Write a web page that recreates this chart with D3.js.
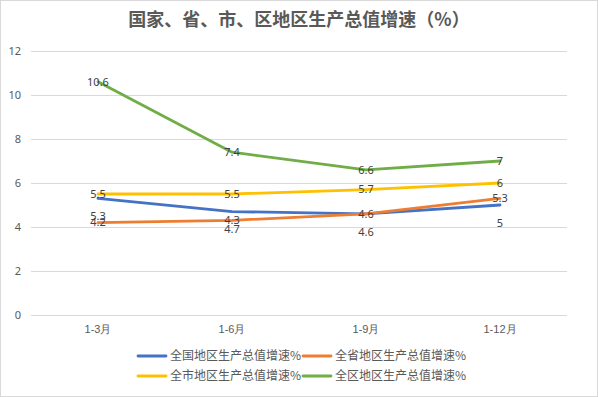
<!DOCTYPE html>
<html><head><meta charset="utf-8">
<script src="https://cdn.jsdelivr.net/npm/d3@7"></script>
<style>
html,body{margin:0;padding:0;background:#fff;}
svg{display:block;font-family:"Noto Sans CJK SC","Noto Sans",sans-serif;}
</style></head>
<body>
<svg id="chart" width="598" height="397"></svg>
<script>
const categories = ["1-3月", "1-6月", "1-9月", "1-12月"];
const seriesNames = ["全国地区生产总值增速%", "全省地区生产总值增速%", "全市地区生产总值增速%", "全区地区生产总值增速%"];
const nationalValues = [5.3, 4.7, 4.6, 5.0];
const provinceValues = [4.2, 4.3, 4.6, 5.3];
const cityValues = [5.5, 5.5, 5.7, 6.0];
const districtValues = [10.6, 7.4, 6.6, 7.0];
const yTicks = [0, 2, 4, 6, 8, 10, 12];
const colors = ["#4472C4", "#ED7D31", "#FFC000", "#70AD47"];
const titleText = "国家、省、市、区地区生产总值增速（%）";

(function(){
const allSeries = [nationalValues, provinceValues, cityValues, districtValues];
const labelOffsets = [18, 0, 0, 0];

const svg = d3.select("#chart");
const W = 598, H = 397;
svg.append("rect").attr("x",0.5).attr("y",0.5).attr("width",W-1).attr("height",H-1)
  .attr("fill","#fff").attr("stroke","#d9d9d9");

const mLeft = 31, mRight = 567, mTop = 51, mBottom = 315;
const x = d3.scaleBand().domain(categories).range([mLeft, mRight]);
const y = d3.scaleLinear().domain([0, 12]).range([mBottom, mTop]);

svg.append("text").attr("x", W/2).attr("y", 26).attr("text-anchor","middle")
  .attr("font-size", 18).attr("font-weight","bold").attr("fill","#595959").text(titleText);

const yAxis = d3.axisLeft(y).tickValues(yTicks).tickSize(-(mRight-mLeft)).tickFormat(d3.format("d"));
const gy = svg.append("g").attr("transform",`translate(${mLeft},0)`).call(yAxis);
gy.select(".domain").remove();
gy.selectAll(".tick line").attr("stroke","#d9d9d9").attr("stroke-width",1);
gy.selectAll(".tick text").attr("x",-10).attr("font-size",11).attr("fill","#595959")
  .attr("font-family","\"Noto Sans\",\"Noto Sans CJK SC\",sans-serif");

const xAxis = d3.axisBottom(x).tickSize(0);
const gx = svg.append("g").attr("transform",`translate(0,${mBottom})`).call(xAxis);
gx.select(".domain").remove();
gx.selectAll(".tick text").attr("dy", 0).attr("y", 18).attr("font-size",11).attr("fill","#595959");

const line = d3.line().x((d,i)=>x(categories[i]) + x.bandwidth()/2).y(d=>y(d));
allSeries.forEach((vals, s) => {
  svg.append("path").datum(vals).attr("d", line).attr("fill","none")
    .attr("stroke", colors[s]).attr("stroke-width", 2.8).attr("stroke-linejoin","round").attr("stroke-linecap","round");
});
allSeries.forEach((vals, s) => {
  svg.append("g").selectAll("text").data(vals).join("text")
    .attr("x",(d,i)=>x(categories[i]) + x.bandwidth()/2)
    .attr("y", d => y(d) + labelOffsets[s])
    .attr("dy","0.35em").attr("text-anchor","middle")
    .attr("font-size",11).attr("fill","#404040")
    .attr("font-family","\"Noto Sans\",\"Noto Sans CJK SC\",sans-serif")
    .text(d => d3.format("")(d));
});

const legendPos = [[138,356],[303,356],[138,376],[303,376]];
seriesNames.forEach((name, s) => {
  const [lx, ly] = legendPos[s];
  svg.append("line").attr("x1",lx).attr("x2",lx+28).attr("y1",ly).attr("y2",ly)
    .attr("stroke",colors[s]).attr("stroke-width",2.8).attr("stroke-linecap","round");
  svg.append("text").attr("x",lx+32).attr("y",ly).attr("dy","0.35em")
    .attr("font-size",12).attr("fill","#595959").text(name);
});
})();
</script>
</body></html>
